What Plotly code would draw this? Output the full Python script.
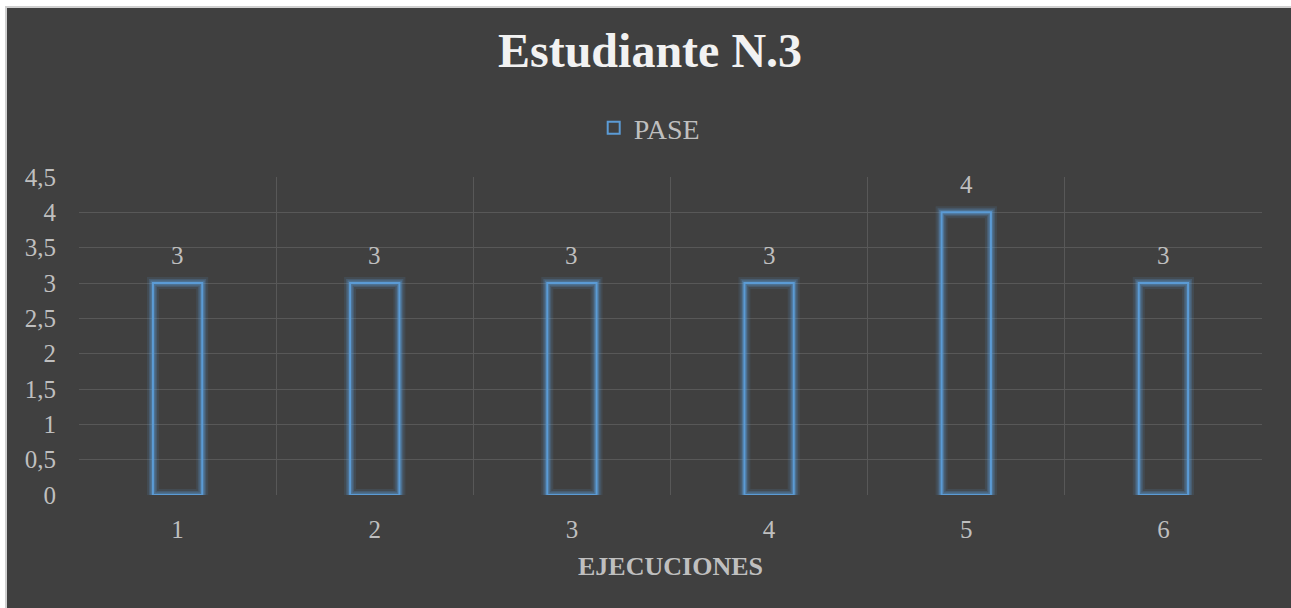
import plotly.graph_objects as go

ejecuciones = [1, 2, 3, 4, 5, 6]
pase = [3, 3, 3, 3, 4, 3]
y_ticks = [0, 0.5, 1, 1.5, 2, 2.5, 3, 3.5, 4, 4.5]
cat_edges = [e - 0.5 for e in ejecuciones] + [ejecuciones[-1] + 0.5]

BLUE = '#5b9bd5'
TEXT = '#bfbfbf'
FONT = 'Liberation Serif, Times New Roman, serif'

W, H = 1291, 608
L, R, T, B = 79, 29, 177, 113
pw, ph = W - L - R, H - T - B

fig = go.Figure()

# soft glow under the outlined bars
for w, a in [(12, 0.12), (8, 0.22), (5, 0.35)]:
    fig.add_trace(go.Bar(x=ejecuciones, y=pase, width=0.25, showlegend=False, hoverinfo='skip',
                         marker=dict(color='rgba(0,0,0,0)', line=dict(color=f'rgba(91,155,213,{a})', width=w))))

fig.add_trace(go.Bar(x=ejecuciones, y=pase, width=0.25, name='PASE',
                     marker=dict(color='rgba(0,0,0,0)', line=dict(color=BLUE, width=2))))

# value labels above the bars
for x, v in zip(ejecuciones, pase):
    fig.add_annotation(x=x, y=v, text=str(v), showarrow=False, yanchor='bottom', yshift=12,
                       font=dict(color=TEXT, size=25, family=FONT))

fig.update_layout(
    width=W, height=H,
    barmode='overlay',
    separators=', ',
    paper_bgcolor='white',
    plot_bgcolor='rgba(0,0,0,0)',
    margin=dict(l=L, r=R, t=T, b=B),
    font=dict(family=FONT, color=TEXT),
    title=dict(text='<b>Estudiante N.3</b>', x=0.5035, xanchor='center', y=1 - 50 / H, yanchor='middle',
               font=dict(size=48, color='#f2f2f2', family=FONT)),
    legend=dict(orientation='h', x=0.482, xanchor='center', y=1.154, yanchor='middle',
                font=dict(size=28, color=TEXT), bgcolor='rgba(0,0,0,0)', itemwidth=30),
    # chart frame: white page edge with a light border on the left and top
    shapes=[dict(type='rect', xref='paper', yref='paper',
                 x0=(6 - L) / pw, x1=1.2, y0=-1, y1=1 + (T - 7) / ph,
                 fillcolor='#404040', line=dict(color='#d0d0d0', width=2), layer='below')],
)

fig.update_xaxes(range=[0.5, 6.5], tickvals=ejecuciones, showgrid=False, zeroline=False,
                 tickfont=dict(size=25, color=TEXT), ticks='', ticklabelstandoff=17,
                 minor=dict(tickvals=cat_edges, showgrid=True, gridcolor='#585858', gridwidth=1, ticks=''),
                 title=dict(text='<b>EJECUCIONES</b>', font=dict(size=26, color=TEXT), standoff=14))
fig.update_yaxes(range=[0, 4.5], tickvals=y_ticks, showgrid=True, gridcolor='#585858', gridwidth=1,
                 zeroline=False, tickfont=dict(size=25, color=TEXT), ticks='', ticklabelstandoff=22)

fig.write_html('out.html', config={'displayModeBar': False},
               post_script="document.body.style.margin='0';document.body.style.overflow='hidden';")
